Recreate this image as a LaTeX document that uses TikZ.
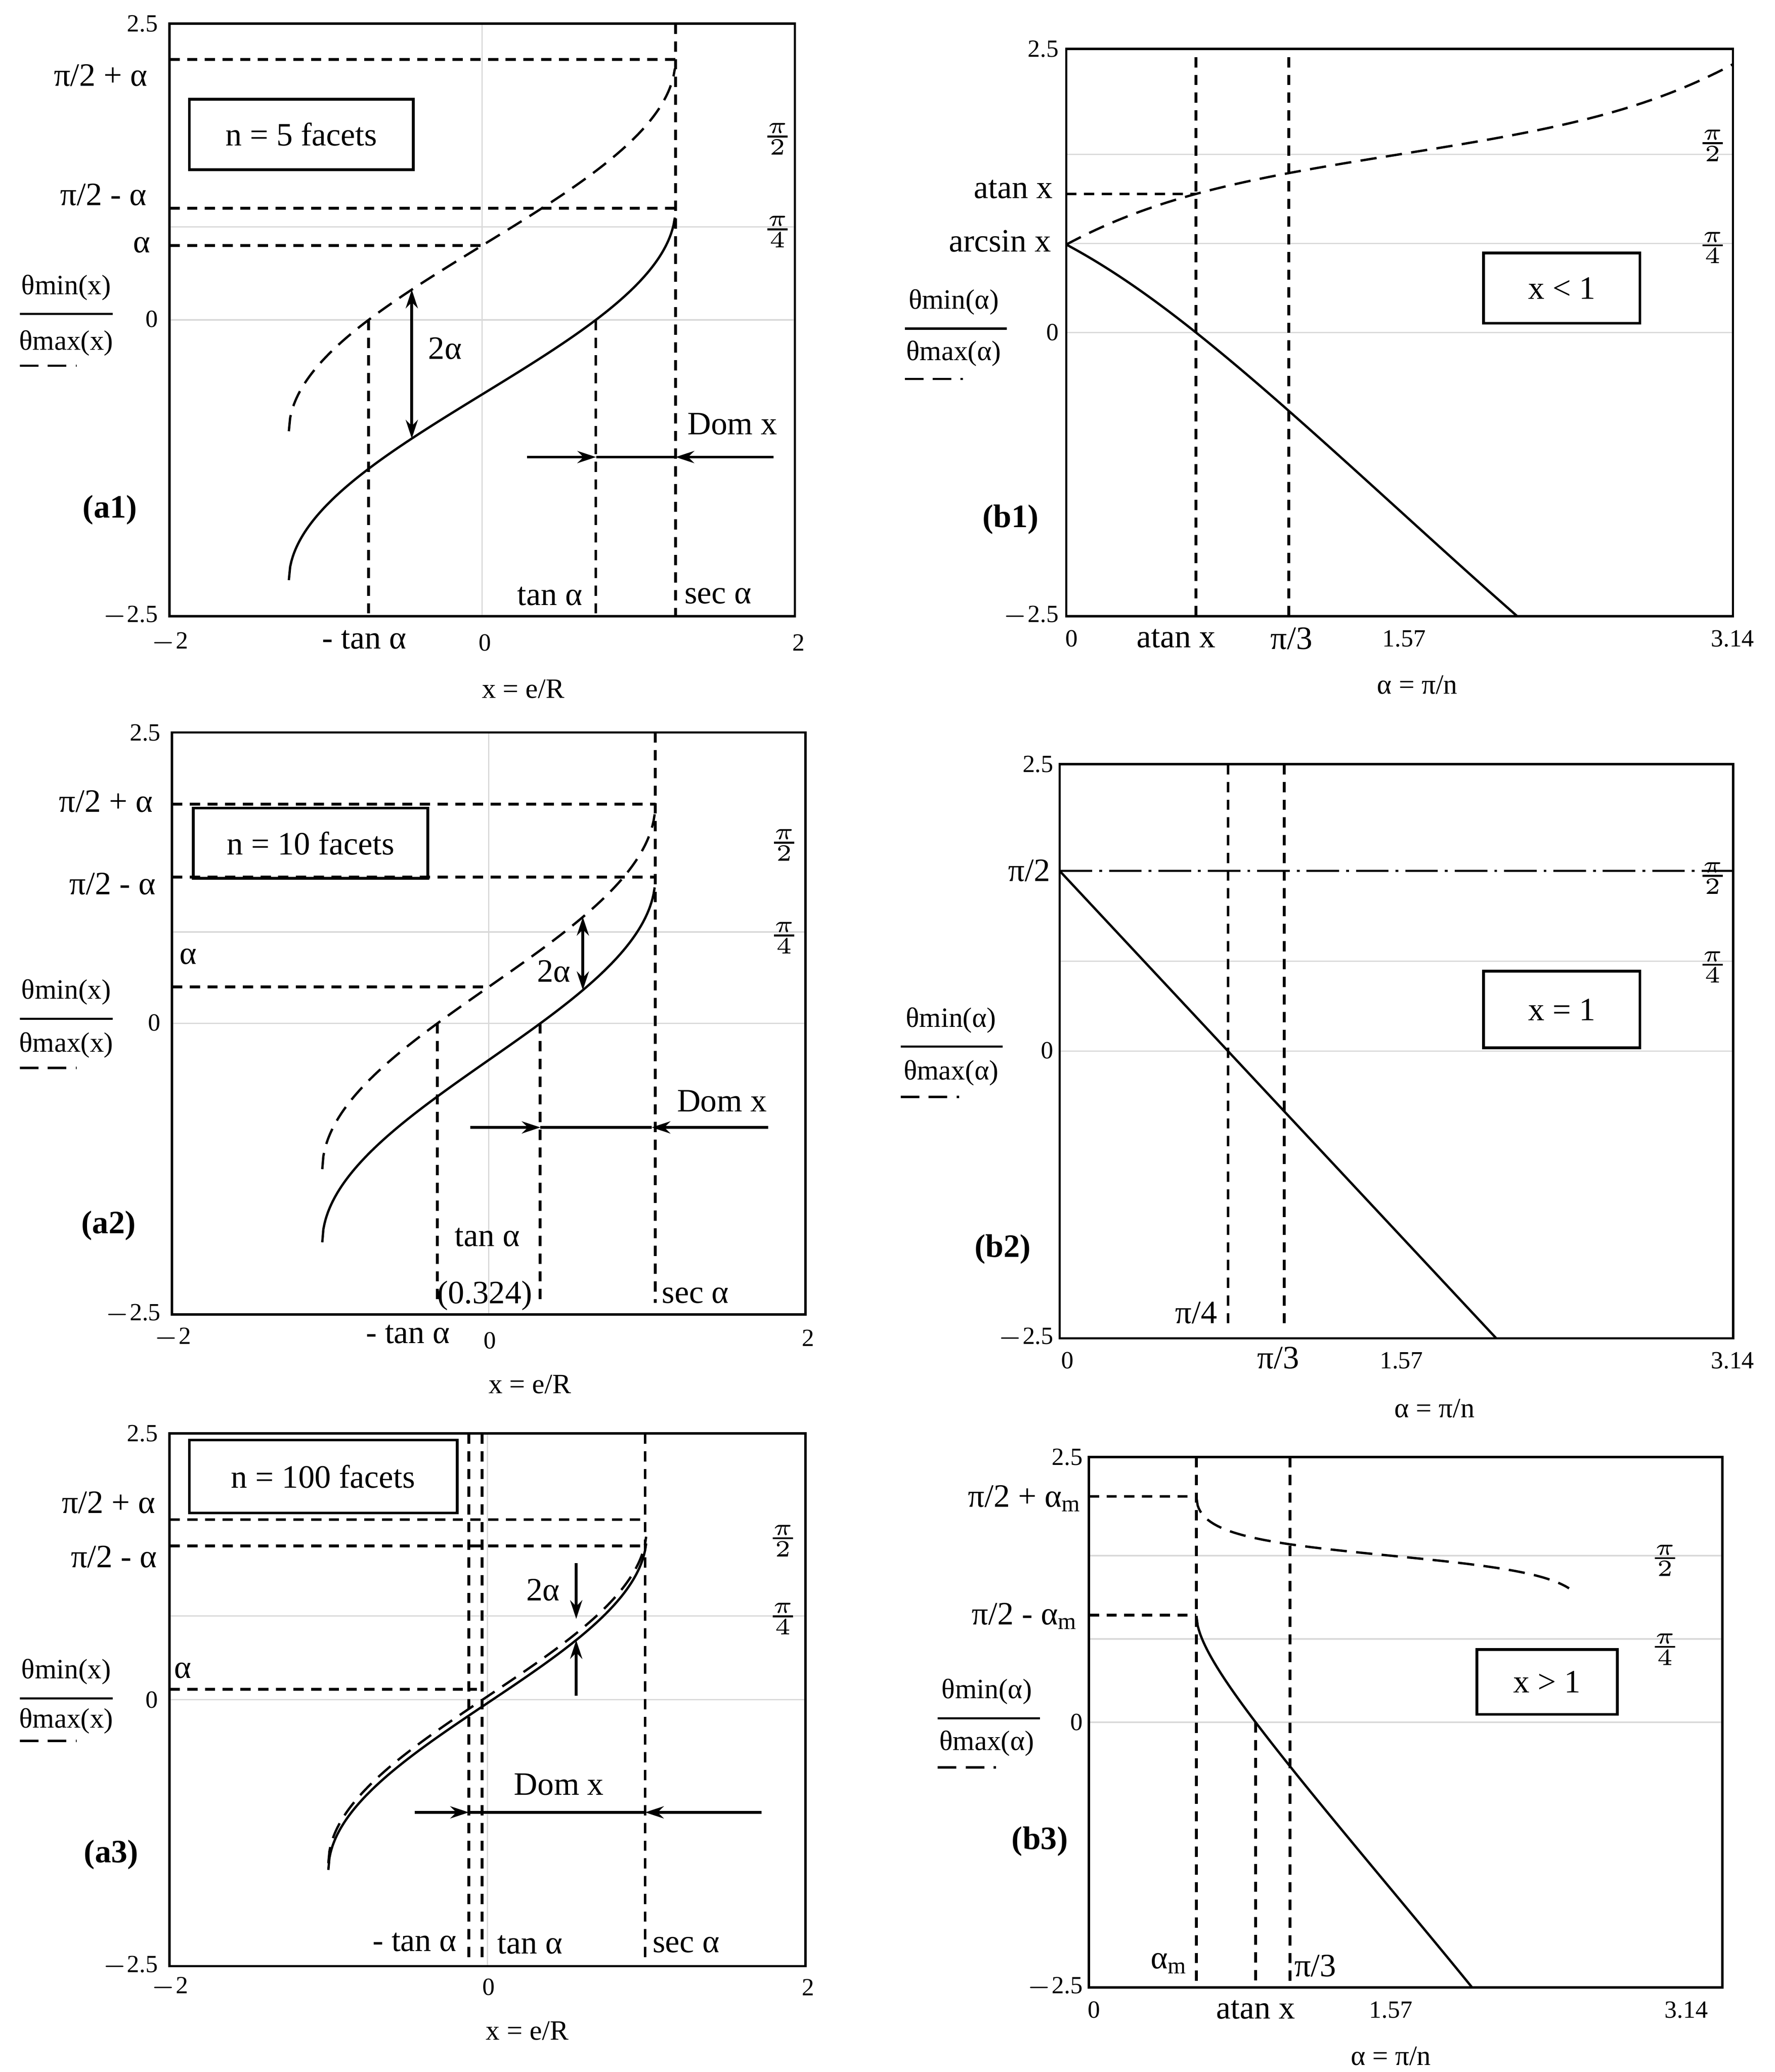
\documentclass[tikz,border=0pt]{standalone}
\usepackage{fontspec}
\setmainfont{Liberation Serif}
\usetikzlibrary{arrows.meta}
\tikzset{
 frm/.style={draw=black, line width=0.5pt},
 grd/.style={draw=gray!30, line width=0.3pt},
 hlp/.style={draw=black, line width=0.6pt, dash pattern=on 2.2pt off 1.6pt},
 sol/.style={draw=black, line width=0.5pt},
 dsh/.style={draw=black, line width=0.5pt, dash pattern=on 3.5pt off 2pt},
 lbl/.style={font=\fontsize{7}{8}\selectfont, inner sep=0pt},
 tck/.style={font=\fontsize{5.3}{6}\selectfont, inner sep=0pt},
 frc/.style={font=\fontsize{5}{5}\selectfont, inner sep=0pt},
 pl/.style={font=\fontsize{7}{8}\selectfont\bfseries, inner sep=0pt},
 bx/.style={draw, line width=0.6pt},
 arr/.style={-{Stealth[length=4pt,width=2.6pt]}, line width=0.6pt},
 darr/.style={{Stealth[length=4pt,width=2.6pt]}-{Stealth[length=4pt,width=2.6pt]}, line width=0.6pt},
 lg/.style={draw=black, line width=0.5pt},
 lgd/.style={draw=black, line width=0.5pt, dash pattern=on 4pt off 2pt},
}
\begin{document}
\begin{tikzpicture}[x=0.01cm,y=-0.01cm]
\useasboundingbox (0,0) rectangle (1340,1564);
% ================= a1 =================
\begin{scope}[shift={(364,241.5)},x=1.18cm,y=0.894cm]
 \pgfmathsetmacro\al{pi/5}\pgfmathsetmacro\ca{cos(\al r)}\pgfmathsetmacro\sa{1/\ca}\pgfmathsetmacro\ta{tan(\al r)}
 \pgfmathsetmacro\lo{-0.99995*\sa}\pgfmathsetmacro\hi{0.99995*\sa}
 \draw[grd] (0,-2.5)--(0,2.5); \draw[grd] (-2,0)--(2,0); \draw[grd] ({-2},{pi/4})--({2},{pi/4});
 \begin{scope}\clip (-2,-2.5) rectangle (2,2.5);
  \draw[sol] plot[domain=\lo:\hi,samples=300] (\x,{asin(\x*\ca)*pi/180-\al});
  \draw[dsh] plot[domain=\lo:\hi,samples=300] (\x,{asin(\x*\ca)*pi/180+\al});
 \end{scope}
 \draw[hlp] ({-2},{pi/2+\al})--({\sa},{pi/2+\al});
 \draw[hlp] ({-2},{pi/2-\al})--({\sa},{pi/2-\al});
 \draw[hlp] ({-2},{\al})--(0,{\al});
 \draw[hlp] ({-\ta},0)--({-\ta},-2.5);
 \draw[hlp] ({\ta},0)--({\ta},-2.5);
 \draw[hlp] ({\sa},2.5)--({\sa},-2.5);
 \draw[darr] (-0.45,{asin(-0.45*\ca)*pi/180+\al})--(-0.45,{asin(-0.45*\ca)*pi/180-\al});
 \draw[frm] (-2,-2.5) rectangle (2,2.5);
\end{scope}
\node[tck,anchor=east] (a1y1) at (120,18) {2.5};
\node[tck,anchor=east] (a1y2) at (120,241) {0};
\node[tck,anchor=east] (a1y3) at (120,465) {$-$2.5};
\node[tck] (a1x1) at (128,485) {$-$2};
\node[tck] (a1x2) at (366,485) {0};
\node[tck] (a1x3) at (603,485) {2};
\node[lbl,font=\fontsize{6}{7}\selectfont] (a1xl) at (395,520) {x = e/R};
\node[lbl] (a1l1) at (76,57) {π/2 + α};
\node[lbl] (a1l2) at (78,147) {π/2 - α};
\node[lbl] (a1l3) at (107,185) {α};
\node[lbl,font=\fontsize{6}{7}\selectfont] (a1g1) at (50,217) {θmin(x)};
\node[lbl,font=\fontsize{6}{7}\selectfont] (a1g2) at (50,259) {θmax(x)};
\draw[lg] (15,237)--(85,237); \draw[lgd] (15,276)--(58,276);
\node[frc] (a1f1) at (587,105) {$\frac{\pi}{2}$};
\node[frc] (a1f2) at (587,175) {$\frac{\pi}{4}$};
\node[bx,minimum width=1.69cm,minimum height=0.53cm,lbl,draw] (a1box) at (227.5,101.5) {n = 5 facets};
\node[lbl] (a1a) at (336,263) {2α};
\coordinate (a1d1) at (398,345); \coordinate (a1d2) at (450,345); \coordinate (a1d3) at (510,345); \coordinate (a1d4) at (584,345);
\draw[arr] (a1d1)--(a1d2); \draw[line width=0.6pt] (a1d2)--(a1d3); \draw[arr] (a1d4)--(a1d3);
\node[lbl] (a1dom) at (553,320) {Dom x};
\node[lbl] (a1t1) at (275,483) {- tan α};
\node[lbl] (a1t2) at (415,450) {tan α};
\node[lbl] (a1t3) at (542,450) {sec α};
\node[pl] (a1p) at (83,385) {(a1)};
% ================= a2 =================
\begin{scope}[shift={(369,772.5)},x=1.195cm,y=0.878cm]
 \pgfmathsetmacro\al{pi/10}\pgfmathsetmacro\ca{cos(\al r)}\pgfmathsetmacro\sa{1/\ca}\pgfmathsetmacro\ta{tan(\al r)}
 \pgfmathsetmacro\lo{-0.99995*\sa}\pgfmathsetmacro\hi{0.99995*\sa}
 \draw[grd] (0,-2.5)--(0,2.5); \draw[grd] (-2,0)--(2,0); \draw[grd] ({-2},{pi/4})--({2},{pi/4});
 \begin{scope}\clip (-2,-2.5) rectangle (2,2.5);
  \draw[sol] plot[domain=\lo:\hi,samples=300] (\x,{asin(\x*\ca)*pi/180-\al});
  \draw[dsh] plot[domain=\lo:\hi,samples=300] (\x,{asin(\x*\ca)*pi/180+\al});
 \end{scope}
 \draw[hlp] ({-2},{pi/2+\al})--({\sa},{pi/2+\al});
 \draw[hlp] ({-2},{pi/2-\al})--({\sa},{pi/2-\al});
 \draw[hlp] ({-2},{\al})--(0,{\al});
 \draw[hlp] ({-\ta},0)--({-\ta},-2.4);
 \draw[hlp] ({\ta},0)--({\ta},-2.4);
 \draw[hlp] ({\sa},2.5)--({\sa},-2.4);
 \draw[darr] (0.594,{asin(0.594*\ca)*pi/180+\al})--(0.594,{asin(0.594*\ca)*pi/180-\al});
 \draw[frm] (-2,-2.5) rectangle (2,2.5);
\end{scope}
\node[tck,anchor=east] (a2y1) at (122,553) {2.5};
\node[tck,anchor=east] (a2y2) at (122,772) {0};
\node[tck,anchor=east] (a2y3) at (122,992) {$-$2.5};
\node[tck] (a2x1) at (130,1010) {$-$2};
\node[tck] (a2x2) at (370,1012) {0};
\node[tck] (a2x3) at (610,1010) {2};
\node[lbl,font=\fontsize{6}{7}\selectfont] (a2xl) at (400,1045) {x = e/R};
\node[lbl] (a2l1) at (80,605) {π/2 + α};
\node[lbl] (a2l2) at (85,667) {π/2 - α};
\node[lbl] (a2l3) at (142,722) {α};
\node[lbl,font=\fontsize{6}{7}\selectfont] (a2g1) at (50,749) {θmin(x)};
\node[lbl,font=\fontsize{6}{7}\selectfont] (a2g2) at (50,789) {θmax(x)};
\draw[lg] (15,769)--(85,769); \draw[lgd] (15,806)--(58,806);
\node[frc] (a2f1) at (592,638) {$\frac{\pi}{2}$};
\node[frc] (a2f2) at (592,708) {$\frac{\pi}{4}$};
\node[bx,minimum width=1.77cm,minimum height=0.53cm,lbl,draw] (a2box) at (234.5,636.5) {n = 10 facets};
\node[lbl] (a2a) at (418,733) {2α};
\coordinate (a2d1) at (355,851); \coordinate (a2d2) at (408,851); \coordinate (a2d3) at (492,851); \coordinate (a2d4) at (580,851);
\draw[arr] (a2d1)--(a2d2); \draw[line width=0.6pt] (a2d2)--(a2d3); \draw[arr] (a2d4)--(a2d3);
\node[lbl] (a2dom) at (545,831) {Dom x};
\node[lbl] (a2t1) at (368,934) {tan α};
\node[lbl] (a2t2) at (366,978) {(0.324)};
\node[lbl] (a2t3) at (308,1007) {- tan α};
\node[lbl] (a2t4) at (525,978) {sec α};
\node[pl] (a2p) at (82,925) {(a2)};
% ================= a3 =================
\begin{scope}[shift={(368,1283)},x=1.2cm,y=0.804cm]
 \pgfmathsetmacro\al{pi/100}\pgfmathsetmacro\ca{cos(\al r)}\pgfmathsetmacro\sa{1/\ca}
 \pgfmathsetmacro\lo{-0.99995*\sa}\pgfmathsetmacro\hi{0.99995*\sa}
 \draw[grd] (0,-2.5)--(0,2.5); \draw[grd] (-2,0)--(2,0); \draw[grd] ({-2},{pi/4})--({2},{pi/4});
 \begin{scope}\clip (-2,-2.5) rectangle (2,2.5);
  \draw[sol] plot[domain=\lo:\hi,samples=300] (\x,{asin(\x*\ca)*pi/180-\al});
  \draw[dsh] plot[domain=\lo:\hi,samples=300] (\x,{asin(\x*\ca)*pi/180+\al});
 \end{scope}
 \draw[frm] (-2,-2.5) rectangle (2,2.5);
\end{scope}
\draw[hlp] (128,1147)--(487,1147);
\draw[hlp] (128,1167)--(487,1167);
\draw[hlp] (128,1275)--(360,1275);
\draw[hlp] (354,1082)--(354,1480);
\draw[hlp] (364,1082)--(364,1480);
\draw[hlp] (487,1082)--(487,1480);
\node[tck,anchor=east] (a3y1) at (120,1082) {2.5};
\node[tck,anchor=east] (a3y2) at (120,1283) {0};
\node[tck,anchor=east] (a3y3) at (120,1484) {$-$2.5};
\node[tck] (a3x1) at (128,1500) {$-$2};
\node[tck] (a3x2) at (369,1500) {0};
\node[tck] (a3x3) at (610,1500) {2};
\node[lbl,font=\fontsize{6}{7}\selectfont] (a3xl) at (398,1533) {x = e/R};
\node[lbl] (a3l1) at (82,1134) {π/2 + α};
\node[lbl] (a3l2) at (86,1175) {π/2 - α};
\node[lbl] (a3l3) at (138,1261) {α};
\node[lbl,font=\fontsize{6}{7}\selectfont] (a3g1) at (50,1262) {θmin(x)};
\node[lbl,font=\fontsize{6}{7}\selectfont] (a3g2) at (50,1299) {θmax(x)};
\draw[lg] (15,1282)--(85,1282); \draw[lgd] (15,1314)--(58,1314);
\node[frc] (a3f1) at (591,1163) {$\frac{\pi}{2}$};
\node[frc] (a3f2) at (591,1222) {$\frac{\pi}{4}$};
\node[bx,minimum width=2.02cm,minimum height=0.55cm,lbl,draw] (a3box) at (244,1114.5) {n = 100 facets};
\node[lbl] (a3a) at (410,1200) {2α};
\coordinate (a3u1) at (435,1180); \coordinate (a3u2) at (435,1222);
\coordinate (a3v1) at (435,1280); \coordinate (a3v2) at (435,1238);
\draw[arr] (a3u1)--(a3u2); \draw[arr] (a3v1)--(a3v2);
\coordinate (a3d1) at (313,1368); \coordinate (a3d2) at (354,1368); \coordinate (a3d3) at (487,1368); \coordinate (a3d4) at (575,1368);
\draw[arr] (a3d1)--(a3d2); \draw[line width=0.6pt] (a3d2)--(a3d3); \draw[arr] (a3d4)--(a3d3);
\node[lbl] (a3dom) at (422,1347) {Dom x};
\node[lbl] (a3t1) at (313,1466) {- tan α};
\node[lbl] (a3t2) at (400,1468) {tan α};
\node[lbl] (a3t3) at (518,1468) {sec α};
\node[pl] (a3p) at (84,1400) {(a3)};
% ================= b1 =================
\begin{scope}[shift={(805,251)},x=1.602cm,y=0.856cm]
 \pgfmathsetmacro\X{0.7}\pgfmathsetmacro\at{atan(\X)*pi/180}
 \pgfmathsetmacro\v{asin(\X*cos(\at r))*pi/180+\at}
 \draw[grd] (0,0)--(3.14,0); \draw[grd] ({0},{pi/2})--({3.14},{pi/2}); \draw[grd] ({0},{pi/4})--({3.14},{pi/4});
 \begin{scope}\clip (0,-2.5) rectangle (3.14,2.5);
  \draw[sol] plot[domain=0:3.14,samples=200] (\x,{asin(\X*cos(\x r))*pi/180-\x});
  \draw[dsh] plot[domain=0:3.14,samples=200] (\x,{asin(\X*cos(\x r))*pi/180+\x});
 \end{scope}
 \draw[hlp] ({\at},-2.5)--({\at},2.5);
 \draw[hlp] ({pi/3},-2.5)--({pi/3},2.5);
 \draw[hlp] (0,{\v})--({\at},{\v});
 \draw[frm] (0,-2.5) rectangle (3.14,2.5);
\end{scope}
\node[tck,anchor=east] (b1y1) at (800,37) {2.5};
\node[tck,anchor=east] (b1y2) at (800,251) {0};
\node[tck,anchor=east] (b1y3) at (800,465) {$-$2.5};
\node[tck] (b1x1) at (809,482) {0};
\node[lbl] (b1x2) at (888,482) {atan x};
\node[lbl] (b1x3) at (975,482) {π/3};
\node[tck] (b1x4) at (1060,482) {1.57};
\node[tck] (b1x5) at (1308,482) {3.14};
\node[lbl,font=\fontsize{6}{7}\selectfont] (b1xl) at (1070,517) {α = π/n};
\node[lbl] (b1l1) at (765,143) {atan x};
\node[lbl] (b1l2) at (755,182) {arcsin x};
\node[lbl,font=\fontsize{6}{7}\selectfont] (b1g1) at (720,228) {θmin(α)};
\node[lbl,font=\fontsize{6}{7}\selectfont] (b1g2) at (720,267) {θmax(α)};
\draw[lg] (683,248)--(760,248); \draw[lgd] (683,286)--(727,286);
\node[frc] (b1f1) at (1293,110) {$\frac{\pi}{2}$};
\node[frc] (b1f2) at (1293,187) {$\frac{\pi}{4}$};
\node[bx,minimum width=1.18cm,minimum height=0.53cm,lbl,draw] (b1box) at (1179,217.5) {x < 1};
\node[pl] (b1p) at (763,392) {(b1)};
% ================= b2 =================
\begin{scope}[shift={(800,793.5)},x=1.618cm,y=0.866cm]
 \draw[grd] (0,0)--(3.14,0); \draw[grd] ({0},{pi/4})--({3.14},{pi/4});
 \begin{scope}\clip (0,-2.5) rectangle (3.14,2.5);
  \draw[sol] plot[domain=0:3.14,samples=2] (\x,{pi/2-2*\x});
 \end{scope}
 \draw[draw=black,line width=0.5pt,dash pattern=on 7pt off 1.5pt on 0.6pt off 1.5pt] ({0},{pi/2})--({3.14},{pi/2});
 \draw[hlp] ({pi/4},2.5)--({pi/4},-2.38);
 \draw[hlp] ({pi/3},2.5)--({pi/3},-2.38);
 \draw[frm] (0,-2.5) rectangle (3.14,2.5);
\end{scope}
\node[tck,anchor=east] (b2y1) at (796,577) {2.5};
\node[tck,anchor=east] (b2y2) at (796,793) {0};
\node[tck,anchor=east] (b2y3) at (796,1010) {$-$2.5};
\node[tck] (b2x1) at (806,1027) {0};
\node[lbl] (b2x2) at (965,1025) {π/3};
\node[lbl] (b2x3) at (903,991) {π/4};
\node[tck] (b2x4) at (1058,1027) {1.57};
\node[tck] (b2x5) at (1308,1027) {3.14};
\node[lbl,font=\fontsize{6}{7}\selectfont] (b2xl) at (1083,1063) {α = π/n};
\node[lbl] (b2l1) at (777,657) {π/2};
\node[lbl,font=\fontsize{6}{7}\selectfont] (b2g1) at (718,770) {θmin(α)};
\node[lbl,font=\fontsize{6}{7}\selectfont] (b2g2) at (718,810) {θmax(α)};
\draw[lg] (680,790)--(757,790); \draw[lgd] (680,828)--(724,828);
\node[frc] (b2f1) at (1293,663) {$\frac{\pi}{2}$};
\node[frc] (b2f2) at (1293,730) {$\frac{\pi}{4}$};
\node[bx,minimum width=1.18cm,minimum height=0.58cm,lbl,draw] (b2box) at (1179,762) {x = 1};
\node[pl] (b2p) at (757,943) {(b2)};
% ================= b3 =================
\begin{scope}[shift={(822,1300)},x=1.45cm,y=0.8cm]
 \pgfmathsetmacro\X{1.18}\pgfmathsetmacro\am{acos(1/\X)*pi/180}\pgfmathsetmacro\at{atan(\X)*pi/180}
 \pgfmathsetmacro\lo{\am+0.0003}\pgfmathsetmacro\hi{pi-\am-0.0003}
 \draw[grd] (0,0)--(3.297,0); \draw[grd] ({0},{pi/4})--({3.297},{pi/4}); \draw[grd] ({0},{pi/2})--({3.297},{pi/2});
 \begin{scope}\clip (0,-2.5) rectangle (3.297,2.5);
  \draw[sol] plot[domain=\lo:\hi,samples=300] (\x,{asin(\X*cos(\x r))*pi/180-\x});
  \draw[dsh] plot[domain=\lo:2.5,samples=300] (\x,{asin(\X*cos(\x r))*pi/180+\x});
 \end{scope}
 \draw[hlp] ({\am},2.5)--({\am},-2.5);
 \draw[hlp] ({\at},0)--({\at},-2.5);
 \draw[hlp] ({pi/3},2.5)--({pi/3},-2.5);
 \draw[hlp] (0,{pi/2+\am})--({\am},{pi/2+\am});
 \draw[hlp] (0,{pi/2-\am})--({\am},{pi/2-\am});
 \draw[frm] (0,-2.5) rectangle (3.297,2.5);
\end{scope}
\node[tck,anchor=east] (b3y1) at (818,1100) {2.5};
\node[tck,anchor=east] (b3y2) at (818,1300) {0};
\node[tck,anchor=east] (b3y3) at (818,1500) {$-$2.5};
\node[tck] (b3x1) at (826,1517) {0};
\node[lbl] (b3x2) at (948,1517) {atan x};
\node[tck] (b3x3) at (1050,1517) {1.57};
\node[tck] (b3x4) at (1273,1517) {3.14};
\node[lbl,font=\fontsize{6}{7}\selectfont] (b3xl) at (1050,1552) {α = π/n};
\node[lbl] (b3i1) at (883,1482) {α\textsubscript{m}};
\node[lbl] (b3i2) at (993,1484) {π/3};
\node[lbl] (b3l1) at (774,1131) {π/2 + α\textsubscript{m}};
\node[lbl] (b3l2) at (774,1220) {π/2 - α\textsubscript{m}};
\node[lbl,font=\fontsize{6}{7}\selectfont] (b3g1) at (745,1277) {θmin(α)};
\node[lbl,font=\fontsize{6}{7}\selectfont] (b3g2) at (745,1316) {θmax(α)};
\draw[lg] (708,1297)--(785,1297); \draw[lgd] (708,1334)--(752,1334);
\node[frc] (b3f1) at (1257,1178) {$\frac{\pi}{2}$};
\node[frc] (b3f2) at (1257,1245) {$\frac{\pi}{4}$};
\node[bx,minimum width=1.06cm,minimum height=0.49cm,lbl,draw] (b3box) at (1168,1269.5) {x > 1};
\node[pl] (b3p) at (785,1390) {(b3)};
\end{tikzpicture}
\end{document}
